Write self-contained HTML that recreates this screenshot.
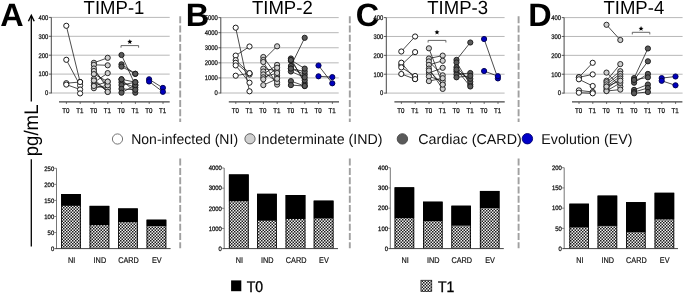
<!DOCTYPE html>
<html><head><meta charset="utf-8"><style>
html,body{margin:0;padding:0;background:#fff;}
svg{display:block;font-family:"Liberation Sans", sans-serif;will-change:transform;text-rendering:geometricPrecision;}
</style></head><body>
<svg width="685" height="293" viewBox="0 0 685 293">
<rect width="685" height="293" fill="#fff"/>
<text transform="translate(0.19,25.50) skewX(0.05)" font-size="32.40" font-weight="bold" fill="#000">A</text>
<text transform="translate(185.73,25.50) skewX(0.05)" font-size="32.40" font-weight="bold" fill="#000">B</text>
<text transform="translate(355.77,25.50) skewX(0.05)" font-size="32.40" font-weight="bold" fill="#000">C</text>
<text transform="translate(528.13,25.50) skewX(0.05)" font-size="32.40" font-weight="bold" fill="#000">D</text>
<text transform="translate(83.58,13.80) skewX(0.05)" font-size="19.00" textLength="60.85" lengthAdjust="spacingAndGlyphs" fill="#000">TIMP-1</text>
<text transform="translate(251.88,13.80) skewX(0.05)" font-size="19.00" textLength="60.85" lengthAdjust="spacingAndGlyphs" fill="#000">TIMP-2</text>
<text transform="translate(427.18,13.80) skewX(0.05)" font-size="19.00" textLength="60.85" lengthAdjust="spacingAndGlyphs" fill="#000">TIMP-3</text>
<text transform="translate(603.38,13.80) skewX(0.05)" font-size="19.00" textLength="60.85" lengthAdjust="spacingAndGlyphs" fill="#000">TIMP-4</text>
<line x1="51.3" y1="93.00" x2="169.7" y2="93.00" stroke="#b0b0b0" stroke-width="0.9"/>
<line x1="48.9" y1="93.00" x2="51.3" y2="93.00" stroke="#333" stroke-width="0.8"/>
<text transform="translate(45.05,95.36) skewX(0.05)" font-size="6.70" textLength="3.28" lengthAdjust="spacingAndGlyphs" fill="#111" stroke="#111" stroke-width="0.25">0</text>
<line x1="51.3" y1="74.10" x2="169.7" y2="74.10" stroke="#b0b0b0" stroke-width="0.9"/>
<line x1="48.9" y1="74.10" x2="51.3" y2="74.10" stroke="#333" stroke-width="0.8"/>
<text transform="translate(38.49,76.46) skewX(0.05)" font-size="6.70" textLength="9.84" lengthAdjust="spacingAndGlyphs" fill="#111" stroke="#111" stroke-width="0.25">100</text>
<line x1="51.3" y1="55.20" x2="169.7" y2="55.20" stroke="#b0b0b0" stroke-width="0.9"/>
<line x1="48.9" y1="55.20" x2="51.3" y2="55.20" stroke="#333" stroke-width="0.8"/>
<text transform="translate(38.49,57.56) skewX(0.05)" font-size="6.70" textLength="9.84" lengthAdjust="spacingAndGlyphs" fill="#111" stroke="#111" stroke-width="0.25">200</text>
<line x1="51.3" y1="36.30" x2="169.7" y2="36.30" stroke="#b0b0b0" stroke-width="0.9"/>
<line x1="48.9" y1="36.30" x2="51.3" y2="36.30" stroke="#333" stroke-width="0.8"/>
<text transform="translate(38.49,38.66) skewX(0.05)" font-size="6.70" textLength="9.84" lengthAdjust="spacingAndGlyphs" fill="#111" stroke="#111" stroke-width="0.25">300</text>
<line x1="51.3" y1="17.40" x2="169.7" y2="17.40" stroke="#b0b0b0" stroke-width="0.9"/>
<line x1="48.9" y1="17.40" x2="51.3" y2="17.40" stroke="#333" stroke-width="0.8"/>
<text transform="translate(38.49,19.76) skewX(0.05)" font-size="6.70" textLength="9.84" lengthAdjust="spacingAndGlyphs" fill="#111" stroke="#111" stroke-width="0.25">400</text>
<line x1="51.3" y1="17.4" x2="51.3" y2="93.4" stroke="#333" stroke-width="0.9"/>
<line x1="59.0" y1="101.9" x2="169.7" y2="101.9" stroke="#444" stroke-width="1.1"/>
<line x1="66.40" y1="102" x2="66.40" y2="103.9" stroke="#444" stroke-width="0.8"/>
<text transform="translate(62.35,112.78) skewX(0.05)" font-size="7.10" textLength="7.21" lengthAdjust="spacingAndGlyphs" fill="#111" stroke="#111" stroke-width="0.25">T0</text>
<line x1="80.20" y1="102" x2="80.20" y2="103.9" stroke="#444" stroke-width="0.8"/>
<text transform="translate(76.18,112.78) skewX(0.05)" font-size="7.10" textLength="7.21" lengthAdjust="spacingAndGlyphs" fill="#111" stroke="#111" stroke-width="0.25">T1</text>
<line x1="94.00" y1="102" x2="94.00" y2="103.9" stroke="#444" stroke-width="0.8"/>
<text transform="translate(89.95,112.78) skewX(0.05)" font-size="7.10" textLength="7.21" lengthAdjust="spacingAndGlyphs" fill="#111" stroke="#111" stroke-width="0.25">T0</text>
<line x1="107.80" y1="102" x2="107.80" y2="103.9" stroke="#444" stroke-width="0.8"/>
<text transform="translate(103.78,112.78) skewX(0.05)" font-size="7.10" textLength="7.21" lengthAdjust="spacingAndGlyphs" fill="#111" stroke="#111" stroke-width="0.25">T1</text>
<line x1="121.60" y1="102" x2="121.60" y2="103.9" stroke="#444" stroke-width="0.8"/>
<text transform="translate(117.55,112.78) skewX(0.05)" font-size="7.10" textLength="7.21" lengthAdjust="spacingAndGlyphs" fill="#111" stroke="#111" stroke-width="0.25">T0</text>
<line x1="135.40" y1="102" x2="135.40" y2="103.9" stroke="#444" stroke-width="0.8"/>
<text transform="translate(131.38,112.78) skewX(0.05)" font-size="7.10" textLength="7.21" lengthAdjust="spacingAndGlyphs" fill="#111" stroke="#111" stroke-width="0.25">T1</text>
<line x1="149.20" y1="102" x2="149.20" y2="103.9" stroke="#444" stroke-width="0.8"/>
<text transform="translate(145.15,112.78) skewX(0.05)" font-size="7.10" textLength="7.21" lengthAdjust="spacingAndGlyphs" fill="#111" stroke="#111" stroke-width="0.25">T0</text>
<line x1="163.00" y1="102" x2="163.00" y2="103.9" stroke="#444" stroke-width="0.8"/>
<text transform="translate(158.98,112.78) skewX(0.05)" font-size="7.10" textLength="7.21" lengthAdjust="spacingAndGlyphs" fill="#111" stroke="#111" stroke-width="0.25">T1</text>
<line x1="220.8" y1="93.00" x2="338.7" y2="93.00" stroke="#b0b0b0" stroke-width="0.9"/>
<line x1="218.4" y1="93.00" x2="220.8" y2="93.00" stroke="#333" stroke-width="0.8"/>
<text transform="translate(214.55,95.36) skewX(0.05)" font-size="6.70" textLength="3.28" lengthAdjust="spacingAndGlyphs" fill="#111" stroke="#111" stroke-width="0.25">0</text>
<line x1="220.8" y1="77.92" x2="338.7" y2="77.92" stroke="#b0b0b0" stroke-width="0.9"/>
<line x1="218.4" y1="77.92" x2="220.8" y2="77.92" stroke="#333" stroke-width="0.8"/>
<text transform="translate(204.71,80.28) skewX(0.05)" font-size="6.70" textLength="13.12" lengthAdjust="spacingAndGlyphs" fill="#111" stroke="#111" stroke-width="0.25">1000</text>
<line x1="220.8" y1="62.84" x2="338.7" y2="62.84" stroke="#b0b0b0" stroke-width="0.9"/>
<line x1="218.4" y1="62.84" x2="220.8" y2="62.84" stroke="#333" stroke-width="0.8"/>
<text transform="translate(204.71,65.20) skewX(0.05)" font-size="6.70" textLength="13.12" lengthAdjust="spacingAndGlyphs" fill="#111" stroke="#111" stroke-width="0.25">2000</text>
<line x1="220.8" y1="47.76" x2="338.7" y2="47.76" stroke="#b0b0b0" stroke-width="0.9"/>
<line x1="218.4" y1="47.76" x2="220.8" y2="47.76" stroke="#333" stroke-width="0.8"/>
<text transform="translate(204.71,50.12) skewX(0.05)" font-size="6.70" textLength="13.12" lengthAdjust="spacingAndGlyphs" fill="#111" stroke="#111" stroke-width="0.25">3000</text>
<line x1="220.8" y1="32.68" x2="338.7" y2="32.68" stroke="#b0b0b0" stroke-width="0.9"/>
<line x1="218.4" y1="32.68" x2="220.8" y2="32.68" stroke="#333" stroke-width="0.8"/>
<text transform="translate(204.71,35.04) skewX(0.05)" font-size="6.70" textLength="13.12" lengthAdjust="spacingAndGlyphs" fill="#111" stroke="#111" stroke-width="0.25">4000</text>
<line x1="220.8" y1="17.60" x2="338.7" y2="17.60" stroke="#b0b0b0" stroke-width="0.9"/>
<line x1="218.4" y1="17.60" x2="220.8" y2="17.60" stroke="#333" stroke-width="0.8"/>
<text transform="translate(204.71,19.96) skewX(0.05)" font-size="6.70" textLength="13.12" lengthAdjust="spacingAndGlyphs" fill="#111" stroke="#111" stroke-width="0.25">5000</text>
<line x1="220.8" y1="17.6" x2="220.8" y2="93.4" stroke="#333" stroke-width="0.9"/>
<line x1="228.8" y1="101.9" x2="339.0" y2="101.9" stroke="#444" stroke-width="1.1"/>
<line x1="235.80" y1="102" x2="235.80" y2="103.9" stroke="#444" stroke-width="0.8"/>
<text transform="translate(231.75,112.78) skewX(0.05)" font-size="7.10" textLength="7.21" lengthAdjust="spacingAndGlyphs" fill="#111" stroke="#111" stroke-width="0.25">T0</text>
<line x1="249.60" y1="102" x2="249.60" y2="103.9" stroke="#444" stroke-width="0.8"/>
<text transform="translate(245.58,112.78) skewX(0.05)" font-size="7.10" textLength="7.21" lengthAdjust="spacingAndGlyphs" fill="#111" stroke="#111" stroke-width="0.25">T1</text>
<line x1="263.40" y1="102" x2="263.40" y2="103.9" stroke="#444" stroke-width="0.8"/>
<text transform="translate(259.35,112.78) skewX(0.05)" font-size="7.10" textLength="7.21" lengthAdjust="spacingAndGlyphs" fill="#111" stroke="#111" stroke-width="0.25">T0</text>
<line x1="277.20" y1="102" x2="277.20" y2="103.9" stroke="#444" stroke-width="0.8"/>
<text transform="translate(273.18,112.78) skewX(0.05)" font-size="7.10" textLength="7.21" lengthAdjust="spacingAndGlyphs" fill="#111" stroke="#111" stroke-width="0.25">T1</text>
<line x1="291.00" y1="102" x2="291.00" y2="103.9" stroke="#444" stroke-width="0.8"/>
<text transform="translate(286.95,112.78) skewX(0.05)" font-size="7.10" textLength="7.21" lengthAdjust="spacingAndGlyphs" fill="#111" stroke="#111" stroke-width="0.25">T0</text>
<line x1="304.80" y1="102" x2="304.80" y2="103.9" stroke="#444" stroke-width="0.8"/>
<text transform="translate(300.78,112.78) skewX(0.05)" font-size="7.10" textLength="7.21" lengthAdjust="spacingAndGlyphs" fill="#111" stroke="#111" stroke-width="0.25">T1</text>
<line x1="318.60" y1="102" x2="318.60" y2="103.9" stroke="#444" stroke-width="0.8"/>
<text transform="translate(314.55,112.78) skewX(0.05)" font-size="7.10" textLength="7.21" lengthAdjust="spacingAndGlyphs" fill="#111" stroke="#111" stroke-width="0.25">T0</text>
<line x1="332.40" y1="102" x2="332.40" y2="103.9" stroke="#444" stroke-width="0.8"/>
<text transform="translate(328.38,112.78) skewX(0.05)" font-size="7.10" textLength="7.21" lengthAdjust="spacingAndGlyphs" fill="#111" stroke="#111" stroke-width="0.25">T1</text>
<line x1="386.3" y1="93.10" x2="504.6" y2="93.10" stroke="#b0b0b0" stroke-width="0.9"/>
<line x1="383.90000000000003" y1="93.10" x2="386.3" y2="93.10" stroke="#333" stroke-width="0.8"/>
<text transform="translate(380.05,95.46) skewX(0.05)" font-size="6.70" textLength="3.28" lengthAdjust="spacingAndGlyphs" fill="#111" stroke="#111" stroke-width="0.25">0</text>
<line x1="386.3" y1="74.22" x2="504.6" y2="74.22" stroke="#b0b0b0" stroke-width="0.9"/>
<line x1="383.90000000000003" y1="74.22" x2="386.3" y2="74.22" stroke="#333" stroke-width="0.8"/>
<text transform="translate(373.49,76.58) skewX(0.05)" font-size="6.70" textLength="9.84" lengthAdjust="spacingAndGlyphs" fill="#111" stroke="#111" stroke-width="0.25">100</text>
<line x1="386.3" y1="55.35" x2="504.6" y2="55.35" stroke="#b0b0b0" stroke-width="0.9"/>
<line x1="383.90000000000003" y1="55.35" x2="386.3" y2="55.35" stroke="#333" stroke-width="0.8"/>
<text transform="translate(373.49,57.71) skewX(0.05)" font-size="6.70" textLength="9.84" lengthAdjust="spacingAndGlyphs" fill="#111" stroke="#111" stroke-width="0.25">200</text>
<line x1="386.3" y1="36.47" x2="504.6" y2="36.47" stroke="#b0b0b0" stroke-width="0.9"/>
<line x1="383.90000000000003" y1="36.47" x2="386.3" y2="36.47" stroke="#333" stroke-width="0.8"/>
<text transform="translate(373.49,38.83) skewX(0.05)" font-size="6.70" textLength="9.84" lengthAdjust="spacingAndGlyphs" fill="#111" stroke="#111" stroke-width="0.25">300</text>
<line x1="386.3" y1="17.60" x2="504.6" y2="17.60" stroke="#b0b0b0" stroke-width="0.9"/>
<line x1="383.90000000000003" y1="17.60" x2="386.3" y2="17.60" stroke="#333" stroke-width="0.8"/>
<text transform="translate(373.49,19.96) skewX(0.05)" font-size="6.70" textLength="9.84" lengthAdjust="spacingAndGlyphs" fill="#111" stroke="#111" stroke-width="0.25">400</text>
<line x1="386.3" y1="17.6" x2="386.3" y2="93.5" stroke="#333" stroke-width="0.9"/>
<line x1="394.4" y1="101.9" x2="504.7" y2="101.9" stroke="#444" stroke-width="1.1"/>
<line x1="401.40" y1="102" x2="401.40" y2="103.9" stroke="#444" stroke-width="0.8"/>
<text transform="translate(397.35,112.78) skewX(0.05)" font-size="7.10" textLength="7.21" lengthAdjust="spacingAndGlyphs" fill="#111" stroke="#111" stroke-width="0.25">T0</text>
<line x1="415.20" y1="102" x2="415.20" y2="103.9" stroke="#444" stroke-width="0.8"/>
<text transform="translate(411.18,112.78) skewX(0.05)" font-size="7.10" textLength="7.21" lengthAdjust="spacingAndGlyphs" fill="#111" stroke="#111" stroke-width="0.25">T1</text>
<line x1="429.00" y1="102" x2="429.00" y2="103.9" stroke="#444" stroke-width="0.8"/>
<text transform="translate(424.95,112.78) skewX(0.05)" font-size="7.10" textLength="7.21" lengthAdjust="spacingAndGlyphs" fill="#111" stroke="#111" stroke-width="0.25">T0</text>
<line x1="442.80" y1="102" x2="442.80" y2="103.9" stroke="#444" stroke-width="0.8"/>
<text transform="translate(438.78,112.78) skewX(0.05)" font-size="7.10" textLength="7.21" lengthAdjust="spacingAndGlyphs" fill="#111" stroke="#111" stroke-width="0.25">T1</text>
<line x1="456.60" y1="102" x2="456.60" y2="103.9" stroke="#444" stroke-width="0.8"/>
<text transform="translate(452.55,112.78) skewX(0.05)" font-size="7.10" textLength="7.21" lengthAdjust="spacingAndGlyphs" fill="#111" stroke="#111" stroke-width="0.25">T0</text>
<line x1="470.40" y1="102" x2="470.40" y2="103.9" stroke="#444" stroke-width="0.8"/>
<text transform="translate(466.38,112.78) skewX(0.05)" font-size="7.10" textLength="7.21" lengthAdjust="spacingAndGlyphs" fill="#111" stroke="#111" stroke-width="0.25">T1</text>
<line x1="484.20" y1="102" x2="484.20" y2="103.9" stroke="#444" stroke-width="0.8"/>
<text transform="translate(480.15,112.78) skewX(0.05)" font-size="7.10" textLength="7.21" lengthAdjust="spacingAndGlyphs" fill="#111" stroke="#111" stroke-width="0.25">T0</text>
<line x1="498.00" y1="102" x2="498.00" y2="103.9" stroke="#444" stroke-width="0.8"/>
<text transform="translate(493.98,112.78) skewX(0.05)" font-size="7.10" textLength="7.21" lengthAdjust="spacingAndGlyphs" fill="#111" stroke="#111" stroke-width="0.25">T1</text>
<line x1="564.1" y1="93.10" x2="682.6" y2="93.10" stroke="#b0b0b0" stroke-width="0.9"/>
<line x1="561.7" y1="93.10" x2="564.1" y2="93.10" stroke="#333" stroke-width="0.8"/>
<text transform="translate(557.85,95.46) skewX(0.05)" font-size="6.70" textLength="3.28" lengthAdjust="spacingAndGlyphs" fill="#111" stroke="#111" stroke-width="0.25">0</text>
<line x1="564.1" y1="74.22" x2="682.6" y2="74.22" stroke="#b0b0b0" stroke-width="0.9"/>
<line x1="561.7" y1="74.22" x2="564.1" y2="74.22" stroke="#333" stroke-width="0.8"/>
<text transform="translate(551.29,76.58) skewX(0.05)" font-size="6.70" textLength="9.84" lengthAdjust="spacingAndGlyphs" fill="#111" stroke="#111" stroke-width="0.25">100</text>
<line x1="564.1" y1="55.35" x2="682.6" y2="55.35" stroke="#b0b0b0" stroke-width="0.9"/>
<line x1="561.7" y1="55.35" x2="564.1" y2="55.35" stroke="#333" stroke-width="0.8"/>
<text transform="translate(551.29,57.71) skewX(0.05)" font-size="6.70" textLength="9.84" lengthAdjust="spacingAndGlyphs" fill="#111" stroke="#111" stroke-width="0.25">200</text>
<line x1="564.1" y1="36.47" x2="682.6" y2="36.47" stroke="#b0b0b0" stroke-width="0.9"/>
<line x1="561.7" y1="36.47" x2="564.1" y2="36.47" stroke="#333" stroke-width="0.8"/>
<text transform="translate(551.29,38.83) skewX(0.05)" font-size="6.70" textLength="9.84" lengthAdjust="spacingAndGlyphs" fill="#111" stroke="#111" stroke-width="0.25">300</text>
<line x1="564.1" y1="17.60" x2="682.6" y2="17.60" stroke="#b0b0b0" stroke-width="0.9"/>
<line x1="561.7" y1="17.60" x2="564.1" y2="17.60" stroke="#333" stroke-width="0.8"/>
<text transform="translate(551.29,19.96) skewX(0.05)" font-size="6.70" textLength="9.84" lengthAdjust="spacingAndGlyphs" fill="#111" stroke="#111" stroke-width="0.25">400</text>
<line x1="564.1" y1="17.6" x2="564.1" y2="93.5" stroke="#333" stroke-width="0.9"/>
<line x1="572.0" y1="101.9" x2="682.4" y2="101.9" stroke="#444" stroke-width="1.1"/>
<line x1="579.00" y1="102" x2="579.00" y2="103.9" stroke="#444" stroke-width="0.8"/>
<text transform="translate(574.95,112.78) skewX(0.05)" font-size="7.10" textLength="7.21" lengthAdjust="spacingAndGlyphs" fill="#111" stroke="#111" stroke-width="0.25">T0</text>
<line x1="592.80" y1="102" x2="592.80" y2="103.9" stroke="#444" stroke-width="0.8"/>
<text transform="translate(588.78,112.78) skewX(0.05)" font-size="7.10" textLength="7.21" lengthAdjust="spacingAndGlyphs" fill="#111" stroke="#111" stroke-width="0.25">T1</text>
<line x1="606.60" y1="102" x2="606.60" y2="103.9" stroke="#444" stroke-width="0.8"/>
<text transform="translate(602.55,112.78) skewX(0.05)" font-size="7.10" textLength="7.21" lengthAdjust="spacingAndGlyphs" fill="#111" stroke="#111" stroke-width="0.25">T0</text>
<line x1="620.40" y1="102" x2="620.40" y2="103.9" stroke="#444" stroke-width="0.8"/>
<text transform="translate(616.38,112.78) skewX(0.05)" font-size="7.10" textLength="7.21" lengthAdjust="spacingAndGlyphs" fill="#111" stroke="#111" stroke-width="0.25">T1</text>
<line x1="634.20" y1="102" x2="634.20" y2="103.9" stroke="#444" stroke-width="0.8"/>
<text transform="translate(630.15,112.78) skewX(0.05)" font-size="7.10" textLength="7.21" lengthAdjust="spacingAndGlyphs" fill="#111" stroke="#111" stroke-width="0.25">T0</text>
<line x1="648.00" y1="102" x2="648.00" y2="103.9" stroke="#444" stroke-width="0.8"/>
<text transform="translate(643.98,112.78) skewX(0.05)" font-size="7.10" textLength="7.21" lengthAdjust="spacingAndGlyphs" fill="#111" stroke="#111" stroke-width="0.25">T1</text>
<line x1="661.80" y1="102" x2="661.80" y2="103.9" stroke="#444" stroke-width="0.8"/>
<text transform="translate(657.75,112.78) skewX(0.05)" font-size="7.10" textLength="7.21" lengthAdjust="spacingAndGlyphs" fill="#111" stroke="#111" stroke-width="0.25">T0</text>
<line x1="675.60" y1="102" x2="675.60" y2="103.9" stroke="#444" stroke-width="0.8"/>
<text transform="translate(671.58,112.78) skewX(0.05)" font-size="7.10" textLength="7.21" lengthAdjust="spacingAndGlyphs" fill="#111" stroke="#111" stroke-width="0.25">T1</text>
<line x1="66.30" y1="25.8" x2="80.10" y2="82.0" stroke="#111" stroke-width="0.75"/>
<line x1="66.30" y1="59.8" x2="80.10" y2="85.5" stroke="#111" stroke-width="0.75"/>
<line x1="66.30" y1="83.2" x2="80.10" y2="82.0" stroke="#111" stroke-width="0.75"/>
<line x1="66.30" y1="84.6" x2="80.10" y2="89.5" stroke="#111" stroke-width="0.75"/>
<circle cx="66.30" cy="25.8" r="2.6" fill="#ffffff" stroke="#111" stroke-width="0.95"/>
<circle cx="66.30" cy="59.8" r="2.6" fill="#ffffff" stroke="#111" stroke-width="0.95"/>
<circle cx="66.30" cy="83.2" r="2.6" fill="#ffffff" stroke="#111" stroke-width="0.95"/>
<circle cx="66.30" cy="84.6" r="2.6" fill="#ffffff" stroke="#111" stroke-width="0.95"/>
<circle cx="80.10" cy="82.0" r="2.6" fill="#ffffff" stroke="#111" stroke-width="0.95"/>
<circle cx="80.10" cy="85.5" r="2.6" fill="#ffffff" stroke="#111" stroke-width="0.95"/>
<circle cx="80.10" cy="82.0" r="2.6" fill="#ffffff" stroke="#111" stroke-width="0.95"/>
<circle cx="80.10" cy="89.5" r="2.6" fill="#ffffff" stroke="#111" stroke-width="0.95"/>
<circle cx="80.10" cy="93.4" r="2.6" fill="#ffffff" stroke="#111" stroke-width="0.95"/>
<line x1="93.90" y1="62.8" x2="107.70" y2="57.8" stroke="#111" stroke-width="0.75"/>
<line x1="93.90" y1="64.8" x2="107.70" y2="65.3" stroke="#111" stroke-width="0.75"/>
<line x1="93.90" y1="68.5" x2="107.70" y2="88.5" stroke="#111" stroke-width="0.75"/>
<line x1="93.90" y1="71.0" x2="107.70" y2="85.3" stroke="#111" stroke-width="0.75"/>
<line x1="93.90" y1="74.1" x2="107.70" y2="81.6" stroke="#111" stroke-width="0.75"/>
<line x1="93.90" y1="78.8" x2="107.70" y2="91.9" stroke="#111" stroke-width="0.75"/>
<line x1="93.90" y1="82.5" x2="107.70" y2="73.1" stroke="#111" stroke-width="0.75"/>
<line x1="93.90" y1="85.3" x2="107.70" y2="88.5" stroke="#111" stroke-width="0.75"/>
<line x1="93.90" y1="88.2" x2="107.70" y2="85.3" stroke="#111" stroke-width="0.75"/>
<line x1="93.90" y1="80.5" x2="107.70" y2="91.9" stroke="#111" stroke-width="0.75"/>
<line x1="93.90" y1="86.0" x2="107.70" y2="81.6" stroke="#111" stroke-width="0.75"/>
<circle cx="93.90" cy="62.8" r="2.6" fill="#cfcfcf" stroke="#222" stroke-width="0.95"/>
<circle cx="93.90" cy="64.8" r="2.6" fill="#cfcfcf" stroke="#222" stroke-width="0.95"/>
<circle cx="93.90" cy="68.5" r="2.6" fill="#cfcfcf" stroke="#222" stroke-width="0.95"/>
<circle cx="93.90" cy="71.0" r="2.6" fill="#cfcfcf" stroke="#222" stroke-width="0.95"/>
<circle cx="93.90" cy="74.1" r="2.6" fill="#cfcfcf" stroke="#222" stroke-width="0.95"/>
<circle cx="93.90" cy="78.8" r="2.6" fill="#cfcfcf" stroke="#222" stroke-width="0.95"/>
<circle cx="93.90" cy="82.5" r="2.6" fill="#cfcfcf" stroke="#222" stroke-width="0.95"/>
<circle cx="93.90" cy="85.3" r="2.6" fill="#cfcfcf" stroke="#222" stroke-width="0.95"/>
<circle cx="93.90" cy="88.2" r="2.6" fill="#cfcfcf" stroke="#222" stroke-width="0.95"/>
<circle cx="93.90" cy="80.5" r="2.6" fill="#cfcfcf" stroke="#222" stroke-width="0.95"/>
<circle cx="93.90" cy="86.0" r="2.6" fill="#cfcfcf" stroke="#222" stroke-width="0.95"/>
<circle cx="107.70" cy="57.8" r="2.6" fill="#cfcfcf" stroke="#222" stroke-width="0.95"/>
<circle cx="107.70" cy="65.3" r="2.6" fill="#cfcfcf" stroke="#222" stroke-width="0.95"/>
<circle cx="107.70" cy="88.5" r="2.6" fill="#cfcfcf" stroke="#222" stroke-width="0.95"/>
<circle cx="107.70" cy="85.3" r="2.6" fill="#cfcfcf" stroke="#222" stroke-width="0.95"/>
<circle cx="107.70" cy="81.6" r="2.6" fill="#cfcfcf" stroke="#222" stroke-width="0.95"/>
<circle cx="107.70" cy="91.9" r="2.6" fill="#cfcfcf" stroke="#222" stroke-width="0.95"/>
<circle cx="107.70" cy="73.1" r="2.6" fill="#cfcfcf" stroke="#222" stroke-width="0.95"/>
<circle cx="107.70" cy="88.5" r="2.6" fill="#cfcfcf" stroke="#222" stroke-width="0.95"/>
<circle cx="107.70" cy="85.3" r="2.6" fill="#cfcfcf" stroke="#222" stroke-width="0.95"/>
<circle cx="107.70" cy="91.9" r="2.6" fill="#cfcfcf" stroke="#222" stroke-width="0.95"/>
<circle cx="107.70" cy="81.6" r="2.6" fill="#cfcfcf" stroke="#222" stroke-width="0.95"/>
<line x1="121.50" y1="55.0" x2="135.30" y2="85.1" stroke="#111" stroke-width="0.75"/>
<line x1="121.50" y1="64.3" x2="135.30" y2="73.8" stroke="#111" stroke-width="0.75"/>
<line x1="121.50" y1="66.6" x2="135.30" y2="73.8" stroke="#111" stroke-width="0.75"/>
<line x1="121.50" y1="79.3" x2="135.30" y2="92.7" stroke="#111" stroke-width="0.75"/>
<line x1="121.50" y1="82.2" x2="135.30" y2="87.5" stroke="#111" stroke-width="0.75"/>
<line x1="121.50" y1="85.1" x2="135.30" y2="82.2" stroke="#111" stroke-width="0.75"/>
<line x1="121.50" y1="88.9" x2="135.30" y2="89.8" stroke="#111" stroke-width="0.75"/>
<line x1="121.50" y1="92.7" x2="135.30" y2="85.1" stroke="#111" stroke-width="0.75"/>
<line x1="121.50" y1="79.3" x2="135.30" y2="82.2" stroke="#111" stroke-width="0.75"/>
<circle cx="121.50" cy="55.0" r="2.6" fill="#5a5a5a" stroke="#1a1a1a" stroke-width="0.95"/>
<circle cx="121.50" cy="64.3" r="2.6" fill="#5a5a5a" stroke="#1a1a1a" stroke-width="0.95"/>
<circle cx="121.50" cy="66.6" r="2.6" fill="#5a5a5a" stroke="#1a1a1a" stroke-width="0.95"/>
<circle cx="121.50" cy="79.3" r="2.6" fill="#5a5a5a" stroke="#1a1a1a" stroke-width="0.95"/>
<circle cx="121.50" cy="82.2" r="2.6" fill="#5a5a5a" stroke="#1a1a1a" stroke-width="0.95"/>
<circle cx="121.50" cy="85.1" r="2.6" fill="#5a5a5a" stroke="#1a1a1a" stroke-width="0.95"/>
<circle cx="121.50" cy="88.9" r="2.6" fill="#5a5a5a" stroke="#1a1a1a" stroke-width="0.95"/>
<circle cx="121.50" cy="92.7" r="2.6" fill="#5a5a5a" stroke="#1a1a1a" stroke-width="0.95"/>
<circle cx="121.50" cy="79.3" r="2.6" fill="#5a5a5a" stroke="#1a1a1a" stroke-width="0.95"/>
<circle cx="135.30" cy="85.1" r="2.6" fill="#5a5a5a" stroke="#1a1a1a" stroke-width="0.95"/>
<circle cx="135.30" cy="73.8" r="2.6" fill="#5a5a5a" stroke="#1a1a1a" stroke-width="0.95"/>
<circle cx="135.30" cy="73.8" r="2.6" fill="#5a5a5a" stroke="#1a1a1a" stroke-width="0.95"/>
<circle cx="135.30" cy="92.7" r="2.6" fill="#5a5a5a" stroke="#1a1a1a" stroke-width="0.95"/>
<circle cx="135.30" cy="87.5" r="2.6" fill="#5a5a5a" stroke="#1a1a1a" stroke-width="0.95"/>
<circle cx="135.30" cy="82.2" r="2.6" fill="#5a5a5a" stroke="#1a1a1a" stroke-width="0.95"/>
<circle cx="135.30" cy="89.8" r="2.6" fill="#5a5a5a" stroke="#1a1a1a" stroke-width="0.95"/>
<circle cx="135.30" cy="85.1" r="2.6" fill="#5a5a5a" stroke="#1a1a1a" stroke-width="0.95"/>
<circle cx="135.30" cy="82.2" r="2.6" fill="#5a5a5a" stroke="#1a1a1a" stroke-width="0.95"/>
<line x1="149.10" y1="79.3" x2="162.90" y2="87.9" stroke="#111" stroke-width="0.75"/>
<line x1="149.10" y1="81.5" x2="162.90" y2="91.8" stroke="#111" stroke-width="0.75"/>
<circle cx="149.10" cy="79.3" r="2.6" fill="#0000c0" stroke="#000050" stroke-width="0.95"/>
<circle cx="149.10" cy="81.5" r="2.6" fill="#0000c0" stroke="#000050" stroke-width="0.95"/>
<circle cx="162.90" cy="87.9" r="2.6" fill="#0000c0" stroke="#000050" stroke-width="0.95"/>
<circle cx="162.90" cy="91.8" r="2.6" fill="#0000c0" stroke="#000050" stroke-width="0.95"/>
<line x1="235.70" y1="27.7" x2="249.50" y2="91.3" stroke="#111" stroke-width="0.75"/>
<line x1="235.70" y1="55.6" x2="249.50" y2="46.5" stroke="#111" stroke-width="0.75"/>
<line x1="235.70" y1="60.2" x2="249.50" y2="73.2" stroke="#111" stroke-width="0.75"/>
<line x1="235.70" y1="62.8" x2="249.50" y2="74.5" stroke="#111" stroke-width="0.75"/>
<line x1="235.70" y1="65.4" x2="249.50" y2="82.7" stroke="#111" stroke-width="0.75"/>
<line x1="235.70" y1="75.7" x2="249.50" y2="73.2" stroke="#111" stroke-width="0.75"/>
<circle cx="235.70" cy="27.7" r="2.6" fill="#ffffff" stroke="#111" stroke-width="0.95"/>
<circle cx="235.70" cy="55.6" r="2.6" fill="#ffffff" stroke="#111" stroke-width="0.95"/>
<circle cx="235.70" cy="60.2" r="2.6" fill="#ffffff" stroke="#111" stroke-width="0.95"/>
<circle cx="235.70" cy="62.8" r="2.6" fill="#ffffff" stroke="#111" stroke-width="0.95"/>
<circle cx="235.70" cy="65.4" r="2.6" fill="#ffffff" stroke="#111" stroke-width="0.95"/>
<circle cx="235.70" cy="75.7" r="2.6" fill="#ffffff" stroke="#111" stroke-width="0.95"/>
<circle cx="249.50" cy="91.3" r="2.6" fill="#ffffff" stroke="#111" stroke-width="0.95"/>
<circle cx="249.50" cy="46.5" r="2.6" fill="#ffffff" stroke="#111" stroke-width="0.95"/>
<circle cx="249.50" cy="73.2" r="2.6" fill="#ffffff" stroke="#111" stroke-width="0.95"/>
<circle cx="249.50" cy="74.5" r="2.6" fill="#ffffff" stroke="#111" stroke-width="0.95"/>
<circle cx="249.50" cy="82.7" r="2.6" fill="#ffffff" stroke="#111" stroke-width="0.95"/>
<circle cx="249.50" cy="73.2" r="2.6" fill="#ffffff" stroke="#111" stroke-width="0.95"/>
<line x1="263.30" y1="57.0" x2="277.10" y2="75.9" stroke="#111" stroke-width="0.75"/>
<line x1="263.30" y1="60.0" x2="277.10" y2="46.3" stroke="#111" stroke-width="0.75"/>
<line x1="263.30" y1="62.0" x2="277.10" y2="84.6" stroke="#111" stroke-width="0.75"/>
<line x1="263.30" y1="68.6" x2="277.10" y2="70.7" stroke="#111" stroke-width="0.75"/>
<line x1="263.30" y1="71.5" x2="277.10" y2="82.2" stroke="#111" stroke-width="0.75"/>
<line x1="263.30" y1="74.4" x2="277.10" y2="64.9" stroke="#111" stroke-width="0.75"/>
<line x1="263.30" y1="77.3" x2="277.10" y2="73.0" stroke="#111" stroke-width="0.75"/>
<line x1="263.30" y1="79.3" x2="277.10" y2="67.8" stroke="#111" stroke-width="0.75"/>
<line x1="263.30" y1="85.1" x2="277.10" y2="78.8" stroke="#111" stroke-width="0.75"/>
<circle cx="263.30" cy="57.0" r="2.6" fill="#cfcfcf" stroke="#222" stroke-width="0.95"/>
<circle cx="263.30" cy="60.0" r="2.6" fill="#cfcfcf" stroke="#222" stroke-width="0.95"/>
<circle cx="263.30" cy="62.0" r="2.6" fill="#cfcfcf" stroke="#222" stroke-width="0.95"/>
<circle cx="263.30" cy="68.6" r="2.6" fill="#cfcfcf" stroke="#222" stroke-width="0.95"/>
<circle cx="263.30" cy="71.5" r="2.6" fill="#cfcfcf" stroke="#222" stroke-width="0.95"/>
<circle cx="263.30" cy="74.4" r="2.6" fill="#cfcfcf" stroke="#222" stroke-width="0.95"/>
<circle cx="263.30" cy="77.3" r="2.6" fill="#cfcfcf" stroke="#222" stroke-width="0.95"/>
<circle cx="263.30" cy="79.3" r="2.6" fill="#cfcfcf" stroke="#222" stroke-width="0.95"/>
<circle cx="263.30" cy="85.1" r="2.6" fill="#cfcfcf" stroke="#222" stroke-width="0.95"/>
<circle cx="277.10" cy="75.9" r="2.6" fill="#cfcfcf" stroke="#222" stroke-width="0.95"/>
<circle cx="277.10" cy="46.3" r="2.6" fill="#cfcfcf" stroke="#222" stroke-width="0.95"/>
<circle cx="277.10" cy="84.6" r="2.6" fill="#cfcfcf" stroke="#222" stroke-width="0.95"/>
<circle cx="277.10" cy="70.7" r="2.6" fill="#cfcfcf" stroke="#222" stroke-width="0.95"/>
<circle cx="277.10" cy="82.2" r="2.6" fill="#cfcfcf" stroke="#222" stroke-width="0.95"/>
<circle cx="277.10" cy="64.9" r="2.6" fill="#cfcfcf" stroke="#222" stroke-width="0.95"/>
<circle cx="277.10" cy="73.0" r="2.6" fill="#cfcfcf" stroke="#222" stroke-width="0.95"/>
<circle cx="277.10" cy="67.8" r="2.6" fill="#cfcfcf" stroke="#222" stroke-width="0.95"/>
<circle cx="277.10" cy="78.8" r="2.6" fill="#cfcfcf" stroke="#222" stroke-width="0.95"/>
<line x1="290.90" y1="58.5" x2="304.70" y2="83.1" stroke="#111" stroke-width="0.75"/>
<line x1="290.90" y1="60.8" x2="304.70" y2="80.2" stroke="#111" stroke-width="0.75"/>
<line x1="290.90" y1="66.0" x2="304.70" y2="37.8" stroke="#111" stroke-width="0.75"/>
<line x1="290.90" y1="68.6" x2="304.70" y2="74.4" stroke="#111" stroke-width="0.75"/>
<line x1="290.90" y1="71.5" x2="304.70" y2="77.3" stroke="#111" stroke-width="0.75"/>
<line x1="290.90" y1="81.1" x2="304.70" y2="86.0" stroke="#111" stroke-width="0.75"/>
<line x1="290.90" y1="85.1" x2="304.70" y2="86.0" stroke="#111" stroke-width="0.75"/>
<line x1="290.90" y1="68.6" x2="304.70" y2="71.5" stroke="#111" stroke-width="0.75"/>
<line x1="290.90" y1="60.0" x2="304.70" y2="68.6" stroke="#111" stroke-width="0.75"/>
<circle cx="290.90" cy="58.5" r="2.6" fill="#5a5a5a" stroke="#1a1a1a" stroke-width="0.95"/>
<circle cx="290.90" cy="60.8" r="2.6" fill="#5a5a5a" stroke="#1a1a1a" stroke-width="0.95"/>
<circle cx="290.90" cy="66.0" r="2.6" fill="#5a5a5a" stroke="#1a1a1a" stroke-width="0.95"/>
<circle cx="290.90" cy="68.6" r="2.6" fill="#5a5a5a" stroke="#1a1a1a" stroke-width="0.95"/>
<circle cx="290.90" cy="71.5" r="2.6" fill="#5a5a5a" stroke="#1a1a1a" stroke-width="0.95"/>
<circle cx="290.90" cy="81.1" r="2.6" fill="#5a5a5a" stroke="#1a1a1a" stroke-width="0.95"/>
<circle cx="290.90" cy="85.1" r="2.6" fill="#5a5a5a" stroke="#1a1a1a" stroke-width="0.95"/>
<circle cx="290.90" cy="68.6" r="2.6" fill="#5a5a5a" stroke="#1a1a1a" stroke-width="0.95"/>
<circle cx="290.90" cy="60.0" r="2.6" fill="#5a5a5a" stroke="#1a1a1a" stroke-width="0.95"/>
<circle cx="304.70" cy="83.1" r="2.6" fill="#5a5a5a" stroke="#1a1a1a" stroke-width="0.95"/>
<circle cx="304.70" cy="80.2" r="2.6" fill="#5a5a5a" stroke="#1a1a1a" stroke-width="0.95"/>
<circle cx="304.70" cy="37.8" r="2.6" fill="#5a5a5a" stroke="#1a1a1a" stroke-width="0.95"/>
<circle cx="304.70" cy="74.4" r="2.6" fill="#5a5a5a" stroke="#1a1a1a" stroke-width="0.95"/>
<circle cx="304.70" cy="77.3" r="2.6" fill="#5a5a5a" stroke="#1a1a1a" stroke-width="0.95"/>
<circle cx="304.70" cy="86.0" r="2.6" fill="#5a5a5a" stroke="#1a1a1a" stroke-width="0.95"/>
<circle cx="304.70" cy="86.0" r="2.6" fill="#5a5a5a" stroke="#1a1a1a" stroke-width="0.95"/>
<circle cx="304.70" cy="71.5" r="2.6" fill="#5a5a5a" stroke="#1a1a1a" stroke-width="0.95"/>
<circle cx="304.70" cy="68.6" r="2.6" fill="#5a5a5a" stroke="#1a1a1a" stroke-width="0.95"/>
<line x1="318.50" y1="65.5" x2="332.30" y2="83.3" stroke="#111" stroke-width="0.75"/>
<line x1="318.50" y1="76.3" x2="332.30" y2="77.1" stroke="#111" stroke-width="0.75"/>
<circle cx="318.50" cy="65.5" r="2.6" fill="#0000c0" stroke="#000050" stroke-width="0.95"/>
<circle cx="318.50" cy="76.3" r="2.6" fill="#0000c0" stroke="#000050" stroke-width="0.95"/>
<circle cx="332.30" cy="83.3" r="2.6" fill="#0000c0" stroke="#000050" stroke-width="0.95"/>
<circle cx="332.30" cy="77.1" r="2.6" fill="#0000c0" stroke="#000050" stroke-width="0.95"/>
<line x1="401.30" y1="51.5" x2="415.10" y2="36.5" stroke="#111" stroke-width="0.75"/>
<line x1="401.30" y1="65.0" x2="415.10" y2="52.1" stroke="#111" stroke-width="0.75"/>
<line x1="401.30" y1="62.7" x2="415.10" y2="79.1" stroke="#111" stroke-width="0.75"/>
<line x1="401.30" y1="67.4" x2="415.10" y2="76.0" stroke="#111" stroke-width="0.75"/>
<line x1="401.30" y1="74.0" x2="415.10" y2="79.1" stroke="#111" stroke-width="0.75"/>
<circle cx="401.30" cy="51.5" r="2.6" fill="#ffffff" stroke="#111" stroke-width="0.95"/>
<circle cx="401.30" cy="65.0" r="2.6" fill="#ffffff" stroke="#111" stroke-width="0.95"/>
<circle cx="401.30" cy="62.7" r="2.6" fill="#ffffff" stroke="#111" stroke-width="0.95"/>
<circle cx="401.30" cy="67.4" r="2.6" fill="#ffffff" stroke="#111" stroke-width="0.95"/>
<circle cx="401.30" cy="74.0" r="2.6" fill="#ffffff" stroke="#111" stroke-width="0.95"/>
<circle cx="415.10" cy="36.5" r="2.6" fill="#ffffff" stroke="#111" stroke-width="0.95"/>
<circle cx="415.10" cy="52.1" r="2.6" fill="#ffffff" stroke="#111" stroke-width="0.95"/>
<circle cx="415.10" cy="79.1" r="2.6" fill="#ffffff" stroke="#111" stroke-width="0.95"/>
<circle cx="415.10" cy="76.0" r="2.6" fill="#ffffff" stroke="#111" stroke-width="0.95"/>
<circle cx="415.10" cy="79.1" r="2.6" fill="#ffffff" stroke="#111" stroke-width="0.95"/>
<line x1="428.90" y1="48.3" x2="442.70" y2="84.6" stroke="#111" stroke-width="0.75"/>
<line x1="428.90" y1="58.5" x2="442.70" y2="55.6" stroke="#111" stroke-width="0.75"/>
<line x1="428.90" y1="61.4" x2="442.70" y2="75.3" stroke="#111" stroke-width="0.75"/>
<line x1="428.90" y1="64.9" x2="442.70" y2="60.8" stroke="#111" stroke-width="0.75"/>
<line x1="428.90" y1="68.6" x2="442.70" y2="88.9" stroke="#111" stroke-width="0.75"/>
<line x1="428.90" y1="73.0" x2="442.70" y2="67.8" stroke="#111" stroke-width="0.75"/>
<line x1="428.90" y1="76.4" x2="442.70" y2="81.1" stroke="#111" stroke-width="0.75"/>
<line x1="428.90" y1="81.1" x2="442.70" y2="78.2" stroke="#111" stroke-width="0.75"/>
<line x1="428.90" y1="70.5" x2="442.70" y2="84.6" stroke="#111" stroke-width="0.75"/>
<circle cx="428.90" cy="48.3" r="2.6" fill="#cfcfcf" stroke="#222" stroke-width="0.95"/>
<circle cx="428.90" cy="58.5" r="2.6" fill="#cfcfcf" stroke="#222" stroke-width="0.95"/>
<circle cx="428.90" cy="61.4" r="2.6" fill="#cfcfcf" stroke="#222" stroke-width="0.95"/>
<circle cx="428.90" cy="64.9" r="2.6" fill="#cfcfcf" stroke="#222" stroke-width="0.95"/>
<circle cx="428.90" cy="68.6" r="2.6" fill="#cfcfcf" stroke="#222" stroke-width="0.95"/>
<circle cx="428.90" cy="73.0" r="2.6" fill="#cfcfcf" stroke="#222" stroke-width="0.95"/>
<circle cx="428.90" cy="76.4" r="2.6" fill="#cfcfcf" stroke="#222" stroke-width="0.95"/>
<circle cx="428.90" cy="81.1" r="2.6" fill="#cfcfcf" stroke="#222" stroke-width="0.95"/>
<circle cx="428.90" cy="70.5" r="2.6" fill="#cfcfcf" stroke="#222" stroke-width="0.95"/>
<circle cx="442.70" cy="84.6" r="2.6" fill="#cfcfcf" stroke="#222" stroke-width="0.95"/>
<circle cx="442.70" cy="55.6" r="2.6" fill="#cfcfcf" stroke="#222" stroke-width="0.95"/>
<circle cx="442.70" cy="75.3" r="2.6" fill="#cfcfcf" stroke="#222" stroke-width="0.95"/>
<circle cx="442.70" cy="60.8" r="2.6" fill="#cfcfcf" stroke="#222" stroke-width="0.95"/>
<circle cx="442.70" cy="88.9" r="2.6" fill="#cfcfcf" stroke="#222" stroke-width="0.95"/>
<circle cx="442.70" cy="67.8" r="2.6" fill="#cfcfcf" stroke="#222" stroke-width="0.95"/>
<circle cx="442.70" cy="81.1" r="2.6" fill="#cfcfcf" stroke="#222" stroke-width="0.95"/>
<circle cx="442.70" cy="78.2" r="2.6" fill="#cfcfcf" stroke="#222" stroke-width="0.95"/>
<circle cx="442.70" cy="84.6" r="2.6" fill="#cfcfcf" stroke="#222" stroke-width="0.95"/>
<line x1="456.50" y1="59.9" x2="470.30" y2="42.5" stroke="#111" stroke-width="0.75"/>
<line x1="456.50" y1="62.5" x2="470.30" y2="84.6" stroke="#111" stroke-width="0.75"/>
<line x1="456.50" y1="67.2" x2="470.30" y2="81.7" stroke="#111" stroke-width="0.75"/>
<line x1="456.50" y1="71.5" x2="470.30" y2="78.8" stroke="#111" stroke-width="0.75"/>
<line x1="456.50" y1="74.4" x2="470.30" y2="73.0" stroke="#111" stroke-width="0.75"/>
<line x1="456.50" y1="77.3" x2="470.30" y2="75.9" stroke="#111" stroke-width="0.75"/>
<line x1="456.50" y1="69.5" x2="470.30" y2="86.5" stroke="#111" stroke-width="0.75"/>
<circle cx="456.50" cy="59.9" r="2.6" fill="#5a5a5a" stroke="#1a1a1a" stroke-width="0.95"/>
<circle cx="456.50" cy="62.5" r="2.6" fill="#5a5a5a" stroke="#1a1a1a" stroke-width="0.95"/>
<circle cx="456.50" cy="67.2" r="2.6" fill="#5a5a5a" stroke="#1a1a1a" stroke-width="0.95"/>
<circle cx="456.50" cy="71.5" r="2.6" fill="#5a5a5a" stroke="#1a1a1a" stroke-width="0.95"/>
<circle cx="456.50" cy="74.4" r="2.6" fill="#5a5a5a" stroke="#1a1a1a" stroke-width="0.95"/>
<circle cx="456.50" cy="77.3" r="2.6" fill="#5a5a5a" stroke="#1a1a1a" stroke-width="0.95"/>
<circle cx="456.50" cy="69.5" r="2.6" fill="#5a5a5a" stroke="#1a1a1a" stroke-width="0.95"/>
<circle cx="470.30" cy="42.5" r="2.6" fill="#5a5a5a" stroke="#1a1a1a" stroke-width="0.95"/>
<circle cx="470.30" cy="84.6" r="2.6" fill="#5a5a5a" stroke="#1a1a1a" stroke-width="0.95"/>
<circle cx="470.30" cy="81.7" r="2.6" fill="#5a5a5a" stroke="#1a1a1a" stroke-width="0.95"/>
<circle cx="470.30" cy="78.8" r="2.6" fill="#5a5a5a" stroke="#1a1a1a" stroke-width="0.95"/>
<circle cx="470.30" cy="73.0" r="2.6" fill="#5a5a5a" stroke="#1a1a1a" stroke-width="0.95"/>
<circle cx="470.30" cy="75.9" r="2.6" fill="#5a5a5a" stroke="#1a1a1a" stroke-width="0.95"/>
<circle cx="470.30" cy="86.5" r="2.6" fill="#5a5a5a" stroke="#1a1a1a" stroke-width="0.95"/>
<line x1="484.10" y1="39.0" x2="497.90" y2="78.4" stroke="#111" stroke-width="0.75"/>
<line x1="484.10" y1="71.0" x2="497.90" y2="76.2" stroke="#111" stroke-width="0.75"/>
<circle cx="484.10" cy="39.0" r="2.6" fill="#0000c0" stroke="#000050" stroke-width="0.95"/>
<circle cx="484.10" cy="71.0" r="2.6" fill="#0000c0" stroke="#000050" stroke-width="0.95"/>
<circle cx="497.90" cy="78.4" r="2.6" fill="#0000c0" stroke="#000050" stroke-width="0.95"/>
<circle cx="497.90" cy="76.2" r="2.6" fill="#0000c0" stroke="#000050" stroke-width="0.95"/>
<line x1="578.90" y1="77.3" x2="592.70" y2="62.8" stroke="#111" stroke-width="0.75"/>
<line x1="578.90" y1="77.3" x2="592.70" y2="74.4" stroke="#111" stroke-width="0.75"/>
<line x1="578.90" y1="79.3" x2="592.70" y2="86.0" stroke="#111" stroke-width="0.75"/>
<line x1="578.90" y1="90.4" x2="592.70" y2="92.0" stroke="#111" stroke-width="0.75"/>
<line x1="578.90" y1="92.7" x2="592.70" y2="93.3" stroke="#111" stroke-width="0.75"/>
<circle cx="578.90" cy="77.3" r="2.6" fill="#ffffff" stroke="#111" stroke-width="0.95"/>
<circle cx="578.90" cy="77.3" r="2.6" fill="#ffffff" stroke="#111" stroke-width="0.95"/>
<circle cx="578.90" cy="79.3" r="2.6" fill="#ffffff" stroke="#111" stroke-width="0.95"/>
<circle cx="578.90" cy="90.4" r="2.6" fill="#ffffff" stroke="#111" stroke-width="0.95"/>
<circle cx="578.90" cy="92.7" r="2.6" fill="#ffffff" stroke="#111" stroke-width="0.95"/>
<circle cx="592.70" cy="62.8" r="2.6" fill="#ffffff" stroke="#111" stroke-width="0.95"/>
<circle cx="592.70" cy="74.4" r="2.6" fill="#ffffff" stroke="#111" stroke-width="0.95"/>
<circle cx="592.70" cy="86.0" r="2.6" fill="#ffffff" stroke="#111" stroke-width="0.95"/>
<circle cx="592.70" cy="92.0" r="2.6" fill="#ffffff" stroke="#111" stroke-width="0.95"/>
<circle cx="592.70" cy="93.3" r="2.6" fill="#ffffff" stroke="#111" stroke-width="0.95"/>
<line x1="606.50" y1="24.8" x2="620.30" y2="40.0" stroke="#111" stroke-width="0.75"/>
<line x1="606.50" y1="72.6" x2="620.30" y2="86.6" stroke="#111" stroke-width="0.75"/>
<line x1="606.50" y1="80.7" x2="620.30" y2="64.1" stroke="#111" stroke-width="0.75"/>
<line x1="606.50" y1="82.2" x2="620.30" y2="71.2" stroke="#111" stroke-width="0.75"/>
<line x1="606.50" y1="84.4" x2="620.30" y2="73.8" stroke="#111" stroke-width="0.75"/>
<line x1="606.50" y1="86.6" x2="620.30" y2="76.3" stroke="#111" stroke-width="0.75"/>
<line x1="606.50" y1="88.8" x2="620.30" y2="78.5" stroke="#111" stroke-width="0.75"/>
<line x1="606.50" y1="91.0" x2="620.30" y2="82.9" stroke="#111" stroke-width="0.75"/>
<line x1="606.50" y1="91.0" x2="620.30" y2="89.6" stroke="#111" stroke-width="0.75"/>
<line x1="606.50" y1="86.6" x2="620.30" y2="80.7" stroke="#111" stroke-width="0.75"/>
<circle cx="606.50" cy="24.8" r="2.6" fill="#cfcfcf" stroke="#222" stroke-width="0.95"/>
<circle cx="606.50" cy="72.6" r="2.6" fill="#cfcfcf" stroke="#222" stroke-width="0.95"/>
<circle cx="606.50" cy="80.7" r="2.6" fill="#cfcfcf" stroke="#222" stroke-width="0.95"/>
<circle cx="606.50" cy="82.2" r="2.6" fill="#cfcfcf" stroke="#222" stroke-width="0.95"/>
<circle cx="606.50" cy="84.4" r="2.6" fill="#cfcfcf" stroke="#222" stroke-width="0.95"/>
<circle cx="606.50" cy="86.6" r="2.6" fill="#cfcfcf" stroke="#222" stroke-width="0.95"/>
<circle cx="606.50" cy="88.8" r="2.6" fill="#cfcfcf" stroke="#222" stroke-width="0.95"/>
<circle cx="606.50" cy="91.0" r="2.6" fill="#cfcfcf" stroke="#222" stroke-width="0.95"/>
<circle cx="606.50" cy="91.0" r="2.6" fill="#cfcfcf" stroke="#222" stroke-width="0.95"/>
<circle cx="606.50" cy="86.6" r="2.6" fill="#cfcfcf" stroke="#222" stroke-width="0.95"/>
<circle cx="620.30" cy="40.0" r="2.6" fill="#cfcfcf" stroke="#222" stroke-width="0.95"/>
<circle cx="620.30" cy="86.6" r="2.6" fill="#cfcfcf" stroke="#222" stroke-width="0.95"/>
<circle cx="620.30" cy="64.1" r="2.6" fill="#cfcfcf" stroke="#222" stroke-width="0.95"/>
<circle cx="620.30" cy="71.2" r="2.6" fill="#cfcfcf" stroke="#222" stroke-width="0.95"/>
<circle cx="620.30" cy="73.8" r="2.6" fill="#cfcfcf" stroke="#222" stroke-width="0.95"/>
<circle cx="620.30" cy="76.3" r="2.6" fill="#cfcfcf" stroke="#222" stroke-width="0.95"/>
<circle cx="620.30" cy="78.5" r="2.6" fill="#cfcfcf" stroke="#222" stroke-width="0.95"/>
<circle cx="620.30" cy="82.9" r="2.6" fill="#cfcfcf" stroke="#222" stroke-width="0.95"/>
<circle cx="620.30" cy="89.6" r="2.6" fill="#cfcfcf" stroke="#222" stroke-width="0.95"/>
<circle cx="620.30" cy="80.7" r="2.6" fill="#cfcfcf" stroke="#222" stroke-width="0.95"/>
<line x1="634.10" y1="78.1" x2="647.90" y2="48.5" stroke="#111" stroke-width="0.75"/>
<line x1="634.10" y1="80.0" x2="647.90" y2="61.3" stroke="#111" stroke-width="0.75"/>
<line x1="634.10" y1="82.7" x2="647.90" y2="73.9" stroke="#111" stroke-width="0.75"/>
<line x1="634.10" y1="80.0" x2="647.90" y2="77.3" stroke="#111" stroke-width="0.75"/>
<line x1="634.10" y1="89.9" x2="647.90" y2="84.5" stroke="#111" stroke-width="0.75"/>
<line x1="634.10" y1="92.0" x2="647.90" y2="88.0" stroke="#111" stroke-width="0.75"/>
<line x1="634.10" y1="93.3" x2="647.90" y2="92.0" stroke="#111" stroke-width="0.75"/>
<circle cx="634.10" cy="78.1" r="2.6" fill="#5a5a5a" stroke="#1a1a1a" stroke-width="0.95"/>
<circle cx="634.10" cy="80.0" r="2.6" fill="#5a5a5a" stroke="#1a1a1a" stroke-width="0.95"/>
<circle cx="634.10" cy="82.7" r="2.6" fill="#5a5a5a" stroke="#1a1a1a" stroke-width="0.95"/>
<circle cx="634.10" cy="80.0" r="2.6" fill="#5a5a5a" stroke="#1a1a1a" stroke-width="0.95"/>
<circle cx="634.10" cy="89.9" r="2.6" fill="#5a5a5a" stroke="#1a1a1a" stroke-width="0.95"/>
<circle cx="634.10" cy="92.0" r="2.6" fill="#5a5a5a" stroke="#1a1a1a" stroke-width="0.95"/>
<circle cx="634.10" cy="93.3" r="2.6" fill="#5a5a5a" stroke="#1a1a1a" stroke-width="0.95"/>
<circle cx="647.90" cy="48.5" r="2.6" fill="#5a5a5a" stroke="#1a1a1a" stroke-width="0.95"/>
<circle cx="647.90" cy="61.3" r="2.6" fill="#5a5a5a" stroke="#1a1a1a" stroke-width="0.95"/>
<circle cx="647.90" cy="73.9" r="2.6" fill="#5a5a5a" stroke="#1a1a1a" stroke-width="0.95"/>
<circle cx="647.90" cy="77.3" r="2.6" fill="#5a5a5a" stroke="#1a1a1a" stroke-width="0.95"/>
<circle cx="647.90" cy="84.5" r="2.6" fill="#5a5a5a" stroke="#1a1a1a" stroke-width="0.95"/>
<circle cx="647.90" cy="88.0" r="2.6" fill="#5a5a5a" stroke="#1a1a1a" stroke-width="0.95"/>
<circle cx="647.90" cy="92.0" r="2.6" fill="#5a5a5a" stroke="#1a1a1a" stroke-width="0.95"/>
<line x1="661.70" y1="78.1" x2="675.50" y2="76.5" stroke="#111" stroke-width="0.75"/>
<line x1="661.70" y1="80.8" x2="675.50" y2="85.3" stroke="#111" stroke-width="0.75"/>
<circle cx="661.70" cy="78.1" r="2.6" fill="#0000c0" stroke="#000050" stroke-width="0.95"/>
<circle cx="661.70" cy="80.8" r="2.6" fill="#0000c0" stroke="#000050" stroke-width="0.95"/>
<circle cx="675.50" cy="76.5" r="2.6" fill="#0000c0" stroke="#000050" stroke-width="0.95"/>
<circle cx="675.50" cy="85.3" r="2.6" fill="#0000c0" stroke="#000050" stroke-width="0.95"/>
<path d="M121.0 47.7 V45.6 H138.6 V47.7" fill="none" stroke="#555" stroke-width="0.9"/>
<polygon points="129.80,39.20 130.49,40.85 132.27,41.00 130.91,42.16 131.33,43.90 129.80,42.97 128.27,43.90 128.69,42.16 127.33,41.00 129.11,40.85" fill="#000"/>
<path d="M428.1 42.5 V40.4 H445.9 V42.5" fill="none" stroke="#555" stroke-width="0.9"/>
<polygon points="437.00,29.70 437.69,31.35 439.47,31.50 438.11,32.66 438.53,34.40 437.00,33.47 435.47,34.40 435.89,32.66 434.53,31.50 436.31,31.35" fill="#000"/>
<path d="M632.3 34.4 V32.3 H649.8 V34.4" fill="none" stroke="#555" stroke-width="0.9"/>
<polygon points="641.05,26.10 641.74,27.75 643.52,27.90 642.16,29.06 642.58,30.80 641.05,29.87 639.52,30.80 639.94,29.06 638.58,27.90 640.36,27.75" fill="#000"/>
<line x1="180.2" y1="16.2" x2="180.2" y2="122" stroke="#a0a0a0" stroke-width="1.9" stroke-dasharray="7 2.3"/>
<line x1="180.2" y1="158.6" x2="180.2" y2="248.3" stroke="#a0a0a0" stroke-width="1.9" stroke-dasharray="7 2.3"/>
<line x1="349.8" y1="16.2" x2="349.8" y2="122" stroke="#a0a0a0" stroke-width="1.9" stroke-dasharray="7 2.3"/>
<line x1="349.8" y1="158.6" x2="349.8" y2="248.3" stroke="#a0a0a0" stroke-width="1.9" stroke-dasharray="7 2.3"/>
<line x1="518.6" y1="16.2" x2="518.6" y2="122" stroke="#a0a0a0" stroke-width="1.9" stroke-dasharray="7 2.3"/>
<line x1="518.6" y1="158.6" x2="518.6" y2="248.3" stroke="#a0a0a0" stroke-width="1.9" stroke-dasharray="7 2.3"/>
<line x1="31.3" y1="16" x2="31.3" y2="101.5" stroke="#000" stroke-width="1.3"/>
<path d="M28.4 21.3 L31.3 15.3 L34.2 21.3" fill="none" stroke="#000" stroke-width="1.4"/>
<line x1="31.3" y1="159.2" x2="31.3" y2="246.5" stroke="#000" stroke-width="1.3"/>
<text transform="translate(37.96,156.30) rotate(-90) skewX(0.05)" font-size="19.7" textLength="51.82" lengthAdjust="spacingAndGlyphs" fill="#000">pg/mL</text>
<circle cx="117.5" cy="139" r="5.1" fill="#fff" stroke="#666" stroke-width="0.9"/>
<circle cx="250" cy="138.8" r="5.1" fill="#d0d0d0" stroke="#555" stroke-width="0.9"/>
<circle cx="402.4" cy="138.9" r="5.2" fill="#5a5a5a" stroke="#444" stroke-width="0.9"/>
<circle cx="527.4" cy="138.7" r="5.2" fill="#0000c8" stroke="#000070" stroke-width="0.9"/>
<text transform="translate(131.15,144.40) skewX(0.05)" font-size="14.20" textLength="106.92" lengthAdjust="spacingAndGlyphs" fill="#111">Non-infected (NI)</text>
<text transform="translate(257.59,144.40) skewX(0.05)" font-size="14.20" textLength="125.00" lengthAdjust="spacingAndGlyphs" fill="#111">Indeterminate (IND)</text>
<text transform="translate(418.27,144.40) skewX(0.05)" font-size="14.20" textLength="103.52" lengthAdjust="spacingAndGlyphs" fill="#111">Cardiac (CARD)</text>
<text transform="translate(541.33,144.40) skewX(0.05)" font-size="14.20" textLength="91.05" lengthAdjust="spacingAndGlyphs" fill="#111">Evolution (EV)</text>
<defs><pattern id="chk" width="3" height="3" patternUnits="userSpaceOnUse"><rect width="3" height="3" fill="#f0f0f0"/><rect width="1.5" height="1.5" fill="#1c1c1c"/><rect x="1.5" y="1.5" width="1.5" height="1.5" fill="#1c1c1c"/></pattern></defs>
<line x1="54.3" y1="248.60" x2="56.5" y2="248.60" stroke="#555" stroke-width="0.7"/>
<text transform="translate(50.92,250.80) skewX(0.05)" font-size="6.40" textLength="3.31" lengthAdjust="spacingAndGlyphs" fill="#111" stroke="#111" stroke-width="0.25">0</text>
<line x1="54.3" y1="232.54" x2="56.5" y2="232.54" stroke="#555" stroke-width="0.7"/>
<text transform="translate(47.61,234.74) skewX(0.05)" font-size="6.40" textLength="6.62" lengthAdjust="spacingAndGlyphs" fill="#111" stroke="#111" stroke-width="0.25">50</text>
<line x1="54.3" y1="216.48" x2="56.5" y2="216.48" stroke="#555" stroke-width="0.7"/>
<text transform="translate(44.30,218.68) skewX(0.05)" font-size="6.40" textLength="9.93" lengthAdjust="spacingAndGlyphs" fill="#111" stroke="#111" stroke-width="0.25">100</text>
<line x1="54.3" y1="200.42" x2="56.5" y2="200.42" stroke="#555" stroke-width="0.7"/>
<text transform="translate(44.30,202.62) skewX(0.05)" font-size="6.40" textLength="9.93" lengthAdjust="spacingAndGlyphs" fill="#111" stroke="#111" stroke-width="0.25">150</text>
<line x1="54.3" y1="184.36" x2="56.5" y2="184.36" stroke="#555" stroke-width="0.7"/>
<text transform="translate(44.30,186.56) skewX(0.05)" font-size="6.40" textLength="9.93" lengthAdjust="spacingAndGlyphs" fill="#111" stroke="#111" stroke-width="0.25">200</text>
<line x1="54.3" y1="168.30" x2="56.5" y2="168.30" stroke="#555" stroke-width="0.7"/>
<text transform="translate(44.30,170.50) skewX(0.05)" font-size="6.40" textLength="9.93" lengthAdjust="spacingAndGlyphs" fill="#111" stroke="#111" stroke-width="0.25">250</text>
<line x1="56.5" y1="168.3" x2="56.5" y2="248.6" stroke="#666" stroke-width="0.9"/>
<rect x="61.1" y="205.88" width="19.7" height="42.72" fill="url(#chk)"/>
<rect x="61.1" y="194.00" width="19.7" height="11.88" fill="#000"/>
<rect x="61.5" y="194.40" width="18.9" height="54.20" fill="none" stroke="#000" stroke-width="0.8"/>
<rect x="89.6" y="225.15" width="19.7" height="23.45" fill="url(#chk)"/>
<rect x="89.6" y="205.88" width="19.7" height="19.27" fill="#000"/>
<rect x="90.0" y="206.28" width="18.9" height="42.32" fill="none" stroke="#000" stroke-width="0.8"/>
<rect x="118.1" y="222.26" width="19.7" height="26.34" fill="url(#chk)"/>
<rect x="118.1" y="208.45" width="19.7" height="13.81" fill="#000"/>
<rect x="118.5" y="208.85" width="18.9" height="39.75" fill="none" stroke="#000" stroke-width="0.8"/>
<rect x="146.6" y="226.12" width="19.7" height="22.48" fill="url(#chk)"/>
<rect x="146.6" y="219.69" width="19.7" height="6.42" fill="#000"/>
<rect x="147.0" y="220.09" width="18.9" height="28.51" fill="none" stroke="#000" stroke-width="0.8"/>
<line x1="55.5" y1="248.6" x2="170.6" y2="248.6" stroke="#444" stroke-width="1"/>
<text transform="translate(67.93,262.88) skewX(0.05)" font-size="8.40" textLength="7.31" lengthAdjust="spacingAndGlyphs" fill="#111" stroke="#111" stroke-width="0.2">NI</text>
<text transform="translate(93.59,262.88) skewX(0.05)" font-size="8.40" textLength="12.59" lengthAdjust="spacingAndGlyphs" fill="#111" stroke="#111" stroke-width="0.2">IND</text>
<text transform="translate(118.19,262.88) skewX(0.05)" font-size="8.40" textLength="20.71" lengthAdjust="spacingAndGlyphs" fill="#111" stroke="#111" stroke-width="0.2">CARD</text>
<text transform="translate(151.89,262.88) skewX(0.05)" font-size="8.40" textLength="9.75" lengthAdjust="spacingAndGlyphs" fill="#111" stroke="#111" stroke-width="0.2">EV</text>
<line x1="222.0" y1="248.60" x2="224.2" y2="248.60" stroke="#555" stroke-width="0.7"/>
<text transform="translate(218.62,250.80) skewX(0.05)" font-size="6.40" textLength="3.31" lengthAdjust="spacingAndGlyphs" fill="#111" stroke="#111" stroke-width="0.25">0</text>
<line x1="222.0" y1="228.45" x2="224.2" y2="228.45" stroke="#555" stroke-width="0.7"/>
<text transform="translate(208.69,230.65) skewX(0.05)" font-size="6.40" textLength="13.24" lengthAdjust="spacingAndGlyphs" fill="#111" stroke="#111" stroke-width="0.25">1000</text>
<line x1="222.0" y1="208.30" x2="224.2" y2="208.30" stroke="#555" stroke-width="0.7"/>
<text transform="translate(208.69,210.50) skewX(0.05)" font-size="6.40" textLength="13.24" lengthAdjust="spacingAndGlyphs" fill="#111" stroke="#111" stroke-width="0.25">2000</text>
<line x1="222.0" y1="188.15" x2="224.2" y2="188.15" stroke="#555" stroke-width="0.7"/>
<text transform="translate(208.69,190.35) skewX(0.05)" font-size="6.40" textLength="13.24" lengthAdjust="spacingAndGlyphs" fill="#111" stroke="#111" stroke-width="0.25">3000</text>
<line x1="222.0" y1="168.00" x2="224.2" y2="168.00" stroke="#555" stroke-width="0.7"/>
<text transform="translate(208.69,170.20) skewX(0.05)" font-size="6.40" textLength="13.24" lengthAdjust="spacingAndGlyphs" fill="#111" stroke="#111" stroke-width="0.25">4000</text>
<line x1="224.2" y1="168.0" x2="224.2" y2="248.6" stroke="#666" stroke-width="0.9"/>
<rect x="228.9" y="201.25" width="19.8" height="47.35" fill="url(#chk)"/>
<rect x="228.9" y="174.45" width="19.8" height="26.80" fill="#000"/>
<rect x="229.3" y="174.85" width="19.0" height="73.75" fill="none" stroke="#000" stroke-width="0.8"/>
<rect x="257.0" y="220.79" width="19.8" height="27.81" fill="url(#chk)"/>
<rect x="257.0" y="193.79" width="19.8" height="27.00" fill="#000"/>
<rect x="257.4" y="194.19" width="19.0" height="54.41" fill="none" stroke="#000" stroke-width="0.8"/>
<rect x="285.6" y="218.98" width="19.8" height="29.62" fill="url(#chk)"/>
<rect x="285.6" y="195.00" width="19.8" height="23.98" fill="#000"/>
<rect x="286.0" y="195.40" width="19.0" height="53.20" fill="none" stroke="#000" stroke-width="0.8"/>
<rect x="313.7" y="218.58" width="19.8" height="30.02" fill="url(#chk)"/>
<rect x="313.7" y="200.64" width="19.8" height="17.93" fill="#000"/>
<rect x="314.09999999999997" y="201.04" width="19.0" height="47.56" fill="none" stroke="#000" stroke-width="0.8"/>
<line x1="223.2" y1="248.6" x2="338.0" y2="248.6" stroke="#444" stroke-width="1"/>
<text transform="translate(235.78,262.88) skewX(0.05)" font-size="8.40" textLength="7.31" lengthAdjust="spacingAndGlyphs" fill="#111" stroke="#111" stroke-width="0.2">NI</text>
<text transform="translate(261.04,262.88) skewX(0.05)" font-size="8.40" textLength="12.59" lengthAdjust="spacingAndGlyphs" fill="#111" stroke="#111" stroke-width="0.2">IND</text>
<text transform="translate(285.74,262.88) skewX(0.05)" font-size="8.40" textLength="20.71" lengthAdjust="spacingAndGlyphs" fill="#111" stroke="#111" stroke-width="0.2">CARD</text>
<text transform="translate(319.04,262.88) skewX(0.05)" font-size="8.40" textLength="9.75" lengthAdjust="spacingAndGlyphs" fill="#111" stroke="#111" stroke-width="0.2">EV</text>
<line x1="388.1" y1="248.60" x2="390.3" y2="248.60" stroke="#555" stroke-width="0.7"/>
<text transform="translate(384.72,250.80) skewX(0.05)" font-size="6.40" textLength="3.31" lengthAdjust="spacingAndGlyphs" fill="#111" stroke="#111" stroke-width="0.25">0</text>
<line x1="388.1" y1="228.38" x2="390.3" y2="228.38" stroke="#555" stroke-width="0.7"/>
<text transform="translate(378.10,230.58) skewX(0.05)" font-size="6.40" textLength="9.93" lengthAdjust="spacingAndGlyphs" fill="#111" stroke="#111" stroke-width="0.25">100</text>
<line x1="388.1" y1="208.15" x2="390.3" y2="208.15" stroke="#555" stroke-width="0.7"/>
<text transform="translate(378.10,210.35) skewX(0.05)" font-size="6.40" textLength="9.93" lengthAdjust="spacingAndGlyphs" fill="#111" stroke="#111" stroke-width="0.25">200</text>
<line x1="388.1" y1="187.92" x2="390.3" y2="187.92" stroke="#555" stroke-width="0.7"/>
<text transform="translate(378.10,190.13) skewX(0.05)" font-size="6.40" textLength="9.93" lengthAdjust="spacingAndGlyphs" fill="#111" stroke="#111" stroke-width="0.25">300</text>
<line x1="388.1" y1="167.70" x2="390.3" y2="167.70" stroke="#555" stroke-width="0.7"/>
<text transform="translate(378.10,169.90) skewX(0.05)" font-size="6.40" textLength="9.93" lengthAdjust="spacingAndGlyphs" fill="#111" stroke="#111" stroke-width="0.25">400</text>
<line x1="390.3" y1="167.7" x2="390.3" y2="248.6" stroke="#666" stroke-width="0.9"/>
<rect x="394.6" y="218.26" width="19.6" height="30.34" fill="url(#chk)"/>
<rect x="394.6" y="187.32" width="19.6" height="30.94" fill="#000"/>
<rect x="395.0" y="187.72" width="18.8" height="60.88" fill="none" stroke="#000" stroke-width="0.8"/>
<rect x="423.0" y="221.30" width="19.6" height="27.30" fill="url(#chk)"/>
<rect x="423.0" y="201.68" width="19.6" height="19.62" fill="#000"/>
<rect x="423.4" y="202.08" width="18.8" height="46.52" fill="none" stroke="#000" stroke-width="0.8"/>
<rect x="451.4" y="225.75" width="19.6" height="22.85" fill="url(#chk)"/>
<rect x="451.4" y="205.72" width="19.6" height="20.02" fill="#000"/>
<rect x="451.79999999999995" y="206.12" width="18.8" height="42.48" fill="none" stroke="#000" stroke-width="0.8"/>
<rect x="479.9" y="208.15" width="19.6" height="40.45" fill="url(#chk)"/>
<rect x="479.9" y="190.96" width="19.6" height="17.19" fill="#000"/>
<rect x="480.29999999999995" y="191.36" width="18.8" height="57.24" fill="none" stroke="#000" stroke-width="0.8"/>
<line x1="389.3" y1="248.6" x2="503.8" y2="248.6" stroke="#444" stroke-width="1"/>
<text transform="translate(401.38,262.88) skewX(0.05)" font-size="8.40" textLength="7.31" lengthAdjust="spacingAndGlyphs" fill="#111" stroke="#111" stroke-width="0.2">NI</text>
<text transform="translate(426.94,262.88) skewX(0.05)" font-size="8.40" textLength="12.59" lengthAdjust="spacingAndGlyphs" fill="#111" stroke="#111" stroke-width="0.2">IND</text>
<text transform="translate(451.44,262.88) skewX(0.05)" font-size="8.40" textLength="20.71" lengthAdjust="spacingAndGlyphs" fill="#111" stroke="#111" stroke-width="0.2">CARD</text>
<text transform="translate(485.14,262.88) skewX(0.05)" font-size="8.40" textLength="9.75" lengthAdjust="spacingAndGlyphs" fill="#111" stroke="#111" stroke-width="0.2">EV</text>
<line x1="562.0" y1="248.60" x2="564.2" y2="248.60" stroke="#555" stroke-width="0.7"/>
<text transform="translate(558.62,250.80) skewX(0.05)" font-size="6.40" textLength="3.31" lengthAdjust="spacingAndGlyphs" fill="#111" stroke="#111" stroke-width="0.25">0</text>
<line x1="562.0" y1="228.38" x2="564.2" y2="228.38" stroke="#555" stroke-width="0.7"/>
<text transform="translate(555.31,230.58) skewX(0.05)" font-size="6.40" textLength="6.62" lengthAdjust="spacingAndGlyphs" fill="#111" stroke="#111" stroke-width="0.25">50</text>
<line x1="562.0" y1="208.15" x2="564.2" y2="208.15" stroke="#555" stroke-width="0.7"/>
<text transform="translate(552.00,210.35) skewX(0.05)" font-size="6.40" textLength="9.93" lengthAdjust="spacingAndGlyphs" fill="#111" stroke="#111" stroke-width="0.25">100</text>
<line x1="562.0" y1="187.92" x2="564.2" y2="187.92" stroke="#555" stroke-width="0.7"/>
<text transform="translate(552.00,190.13) skewX(0.05)" font-size="6.40" textLength="9.93" lengthAdjust="spacingAndGlyphs" fill="#111" stroke="#111" stroke-width="0.25">150</text>
<line x1="562.0" y1="167.70" x2="564.2" y2="167.70" stroke="#555" stroke-width="0.7"/>
<text transform="translate(552.00,169.90) skewX(0.05)" font-size="6.40" textLength="9.93" lengthAdjust="spacingAndGlyphs" fill="#111" stroke="#111" stroke-width="0.25">200</text>
<line x1="564.2" y1="167.7" x2="564.2" y2="248.6" stroke="#666" stroke-width="0.9"/>
<rect x="569.4" y="227.57" width="19.6" height="21.03" fill="url(#chk)"/>
<rect x="569.4" y="203.70" width="19.6" height="23.87" fill="#000"/>
<rect x="569.8" y="204.10" width="18.8" height="44.50" fill="none" stroke="#000" stroke-width="0.8"/>
<rect x="597.6" y="225.95" width="19.6" height="22.65" fill="url(#chk)"/>
<rect x="597.6" y="195.61" width="19.6" height="30.34" fill="#000"/>
<rect x="598.0" y="196.01" width="18.8" height="52.59" fill="none" stroke="#000" stroke-width="0.8"/>
<rect x="626.0" y="232.42" width="19.6" height="16.18" fill="url(#chk)"/>
<rect x="626.0" y="202.08" width="19.6" height="30.34" fill="#000"/>
<rect x="626.4" y="202.48" width="18.8" height="46.12" fill="none" stroke="#000" stroke-width="0.8"/>
<rect x="654.6" y="219.48" width="19.6" height="29.12" fill="url(#chk)"/>
<rect x="654.6" y="192.78" width="19.6" height="26.70" fill="#000"/>
<rect x="655.0" y="193.18" width="18.8" height="55.42" fill="none" stroke="#000" stroke-width="0.8"/>
<line x1="563.2" y1="248.6" x2="678.0" y2="248.6" stroke="#444" stroke-width="1"/>
<text transform="translate(576.18,262.88) skewX(0.05)" font-size="8.40" textLength="7.31" lengthAdjust="spacingAndGlyphs" fill="#111" stroke="#111" stroke-width="0.2">NI</text>
<text transform="translate(601.54,262.88) skewX(0.05)" font-size="8.40" textLength="12.59" lengthAdjust="spacingAndGlyphs" fill="#111" stroke="#111" stroke-width="0.2">IND</text>
<text transform="translate(626.04,262.88) skewX(0.05)" font-size="8.40" textLength="20.71" lengthAdjust="spacingAndGlyphs" fill="#111" stroke="#111" stroke-width="0.2">CARD</text>
<text transform="translate(659.84,262.88) skewX(0.05)" font-size="8.40" textLength="9.75" lengthAdjust="spacingAndGlyphs" fill="#111" stroke="#111" stroke-width="0.2">EV</text>
<rect x="231.1" y="280.4" width="10.2" height="10.8" fill="#000"/>
<text transform="translate(246.69,291.60) skewX(0.05)" font-size="15.40" textLength="16.35" lengthAdjust="spacingAndGlyphs" fill="#000" stroke="#000" stroke-width="0.35">T0</text>
<rect x="420.9" y="280.2" width="10.9" height="11.3" fill="url(#chk)" stroke="#000" stroke-width="0.6"/>
<text transform="translate(437.89,291.60) skewX(0.05)" font-size="15.40" textLength="16.35" lengthAdjust="spacingAndGlyphs" fill="#000" stroke="#000" stroke-width="0.35">T1</text>
</svg>
</body></html>
